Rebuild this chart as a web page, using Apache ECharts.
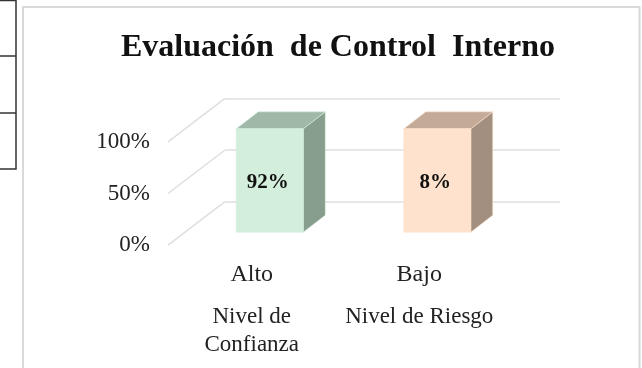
<!DOCTYPE html>
<html><head><meta charset="utf-8">
<style>html,body{margin:0;padding:0;background:#fff}#c{width:642px;height:368px}</style>
<script src="https://cdn.jsdelivr.net/npm/echarts@6/dist/echarts.min.js"></script>
</head><body><div id="c"></div>
<script>
const titleText = 'Evaluación  de Control  Interno';
const categories = ['Alto', 'Bajo'];
const groupLabels = ['Nivel de\nConfianza', 'Nivel de Riesgo'];
const barValues = [100, 100];
const barLabels = ['92%', '8%'];
const ticks = [0, 50, 100];
const frontColors = ['#D3EFDC', '#FFE2CD'];
const topColors = ['#A0B8A8', '#C3AB98'];
const sideColors = ['#879D8D', '#A38F80'];
const font = '"Liberation Serif","Times New Roman",serif';

const wallDx = 57, wallDy = -43.5;
const barDx = 22, barDy = -17, barW = 67, shiftX = 18, shiftY = -13;

const chart = echarts.init(document.getElementById('c'), null, {renderer: 'canvas'});
chart.setOption({
  animation: false,
  backgroundColor: '#fff',
  title: {
    text: titleText, left: 333, top: 27, textAlign: 'center',
    textStyle: {fontFamily: font, fontSize: 32, fontWeight: 'bold', color: '#111'}
  },
  grid: [
    {left: 225, top: 98.3, width: 335, height: 103.4},
    {left: 168, top: 141.8, width: 335, height: 103.4}
  ],
  xAxis: [
    {gridIndex: 0, type: 'category', data: categories, show: false},
    {gridIndex: 1, type: 'category', data: categories,
     axisLine: {show: false}, axisTick: {show: false},
     axisLabel: {fontFamily: font, fontSize: 24, color: '#222', margin: 18, interval: 0}},
    {gridIndex: 1, type: 'category', position: 'bottom', offset: 58, data: groupLabels,
     axisLine: {show: false}, axisTick: {show: false},
     axisLabel: {fontFamily: font, fontSize: 23, color: '#222', lineHeight: 28, margin: 0, interval: 0}}
  ],
  yAxis: [
    {gridIndex: 0, type: 'value', min: 0, max: 100, interval: 50,
     axisLine: {show: false}, axisTick: {show: false}, axisLabel: {show: false},
     splitLine: {lineStyle: {color: '#DFDFDF', width: 1.5}}},
    {gridIndex: 1, type: 'value', min: 0, max: 100, interval: 50,
     axisLine: {show: false}, axisTick: {show: false}, splitLine: {show: false},
     axisLabel: {fontFamily: font, fontSize: 23, color: '#222', margin: 18, padding: [4, 0, 0, 0], formatter: '{value}%'}}
  ],
  graphic: [
    {type: 'rect', shape: {x: 23, y: 7, width: 616.5, height: 380},
     style: {fill: 'none', stroke: '#D9D9D9', lineWidth: 2}, z: -1},
    {type: 'polyline', shape: {points: [[0, 0.5], [16, 0.5], [16, 169], [0, 169]]},
     style: {fill: 'none', stroke: '#333', lineWidth: 1.5}},
    {type: 'line', shape: {x1: 0, y1: 56, x2: 16, y2: 56}, style: {stroke: '#333', lineWidth: 1.5}},
    {type: 'line', shape: {x1: 0, y1: 113, x2: 16, y2: 113}, style: {stroke: '#333', lineWidth: 1.5}}
  ],
  series: [
    {
      type: 'custom', xAxisIndex: 1, yAxisIndex: 1, silent: true, z: 1,
      data: ticks.map(t => [t]),
      encode: {y: 0},
      renderItem(params, api) {
        const y = api.coord([0, api.value(0)])[1];
        const x = params.coordSys.x;
        return {type: 'line', shape: {x1: x, y1: y, x2: x + wallDx, y2: y + wallDy},
          style: {stroke: '#DFDFDF', lineWidth: 1.5}};
      }
    },
    {
      type: 'custom', xAxisIndex: 1, yAxisIndex: 1, silent: true, z: 3,
      data: barValues.map((v, i) => [i, v]),
      encode: {x: 0, y: 1},
      renderItem(params, api) {
        const i = api.value(0);
        const top = api.coord([i, api.value(1)]);
        const base = api.coord([i, 0]);
        const l = top[0] + shiftX - barW / 2, r = l + barW;
        const t = top[1] + shiftY, b = base[1] + shiftY;
        const poly = (pts, fill) => ({type: 'polygon', shape: {points: pts},
          style: {fill, stroke: frontColors[i], lineWidth: 0.6}});
        return {type: 'group', children: [
          poly([[r, t], [r + barDx, t + barDy], [r + barDx, b + barDy], [r, b]], sideColors[i]),
          poly([[l, t], [l + barDx, t + barDy], [r + barDx, t + barDy], [r, t]], topColors[i]),
          poly([[l, t], [r, t], [r, b], [l, b]], frontColors[i]),
          {type: 'text', x: (l + r) / 2 - 2, y: (t + b) / 2 + 2, style: {
            text: barLabels[i], fontFamily: font, fontSize: 21, fontWeight: 'bold',
            fill: '#111', align: 'center', verticalAlign: 'middle'}}
        ]};
      }
    }
  ]
});
</script></body></html>
